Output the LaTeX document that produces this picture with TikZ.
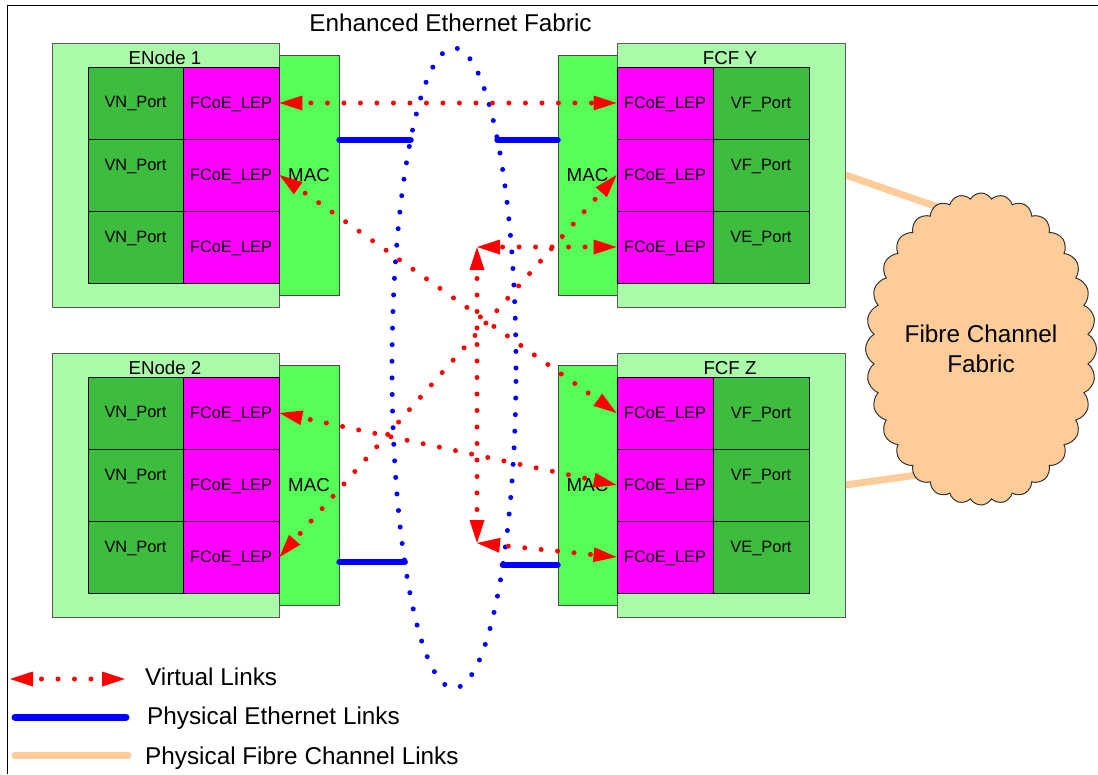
\documentclass[tikz,border=0pt]{standalone}
\usepackage{fontspec}
\setmainfont{Liberation Sans}
\usetikzlibrary{arrows.meta,shapes.geometric,shapes.symbols,calc}
\pgfdeclarelayer{bg}
\pgfsetlayers{bg,main}

\definecolor{outerG}{RGB}{170,250,170}
\definecolor{cellG}{RGB}{62,188,62}
\definecolor{macG}{RGB}{85,255,85}
\definecolor{lepM}{RGB}{255,0,255}
\definecolor{fcPeach}{RGB}{253,204,153}
\definecolor{vRed}{RGB}{255,0,0}
\definecolor{eBlue}{RGB}{0,0,255}
\definecolor{edgeGray}{RGB}{90,90,90}

\begin{document}
\begin{tikzpicture}[x=1pt,y=-1pt,
  outerbox/.style={draw=edgeGray, line width=1pt, fill=outerG,
    minimum width=228pt, minimum height=264pt, inner sep=0pt},
  macbox/.style={draw=edgeGray!80!black, line width=1pt, fill=macG,
    minimum width=60pt, minimum height=240pt, inner sep=0pt,
    font=\fontsize{18.7}{22}\selectfont, text depth=0pt},
  portcell/.style={draw=black, line width=0.9pt, fill=cellG,
    minimum width=96pt, minimum height=72pt, inner sep=0pt},
  lepcell/.style={portcell, fill=lepM,
    font=\fontsize{16.4}{19}\selectfont, text depth=0pt},
  celltext/.style={font=\fontsize{16.4}{19}\selectfont, text depth=0pt, inner sep=0pt},
  boxlabel/.style={font=\fontsize{18.7}{22}\selectfont, text depth=0pt, inner sep=0pt},
  bigtext/.style={font=\fontsize{24.3}{30}\selectfont, inner sep=0pt},
  legtext/.style={bigtext, anchor=west, text depth=0pt},
  vlink/.style={draw, color=vRed, line width=5pt, line cap=round,
    dash pattern=on 0pt off 16.5pt, dash phase=8pt,
    {Triangle[length=23pt,width=15pt,line width=0pt]}-{Triangle[length=23pt,width=15pt,line width=0pt]}},
  elink/.style={draw=eBlue, line width=6.5pt, line cap=round},
  fclink/.style={draw=fcPeach, line width=7pt},
]
\useasboundingbox (0,0) rectangle (1098,774);

% frame
\draw[line width=1pt] (7.5,774) -- (7.5,5.5) -- (1098,5.5);

% title of the Ethernet fabric
\node[bigtext] (title) at (450.5,23) {Enhanced Ethernet Fabric};

% ---------- ENode 1 ----------
\node[outerbox, minimum width=227pt] (enAo) at (165.5,175) {};
\node[macbox] (macA) at (309,175) {MAC};
\node[boxlabel] (enAl) at (165,58) {ENode 1};
\foreach \i/\y in {1/103,2/175,3/247} {
  \node[portcell, minimum width=95pt] (vnA\i) at (135.5,\y) {};
  \node[lepcell] (lepA\i) at (231,\y) {FCoE\_LEP};
}
\node[celltext] (vnAt1) at (135.5,102) {VN\_Port};
\node[celltext] (vnAt2) at (135.5,165) {VN\_Port};
\node[celltext] (vnAt3) at (135.5,237) {VN\_Port};

% ---------- ENode 2 ----------
\node[outerbox, minimum width=227pt] (enBo) at (165.5,485) {};
\node[macbox] (macB) at (309,485) {MAC};
\node[boxlabel] (enBl) at (165,368) {ENode 2};
\foreach \i/\y in {1/413,2/485,3/557} {
  \node[portcell, minimum width=95pt] (vnB\i) at (135.5,\y) {};
  \node[lepcell] (lepB\i) at (231,\y) {FCoE\_LEP};
}
\node[celltext] (vnBt1) at (135.5,412) {VN\_Port};
\node[celltext] (vnBt2) at (135.5,475) {VN\_Port};
\node[celltext] (vnBt3) at (135.5,547) {VN\_Port};

% ---------- FCF Y ----------
\node[macbox, minimum width=59pt] (macY) at (587.5,175) {MAC};
\node[outerbox] (fYo) at (731,175) {};
\node[boxlabel] (fYl) at (730,58) {FCF Y};
\foreach \i/\y in {1/103,2/175,3/247} {
  \node[lepcell] (lepY\i) at (665,\y) {FCoE\_LEP};
  \node[portcell] (vfY\i) at (761,\y) {};
}
\node[celltext] (vfYt1) at (761,103) {VF\_Port};
\node[celltext] (vfYt2) at (761,165) {VF\_Port};
\node[celltext] (vfYt3) at (761,237) {VE\_Port};

% ---------- FCF Z ----------
\node[macbox, minimum width=59pt] (macZ) at (587.5,485) {MAC};
\node[outerbox] (fZo) at (731,485) {};
\node[boxlabel] (fZl) at (730,368) {FCF Z};
\foreach \i/\y in {1/413,2/485,3/557} {
  \node[lepcell] (lepZ\i) at (665,\y) {FCoE\_LEP};
  \node[portcell] (vfZ\i) at (761,\y) {};
}
\node[celltext] (vfZt1) at (761,413) {VF\_Port};
\node[celltext] (vfZt2) at (761,475) {VF\_Port};
\node[celltext] (vfZt3) at (761,547) {VE\_Port};

% ---------- Fibre Channel fabric ----------
\node[cloud, cloud puffs=32, cloud puff arc=120, draw=black!80, line width=1pt,
      fill=fcPeach, minimum width=231pt, minimum height=312pt, inner sep=0pt,
      align=center, font=\fontsize{24.3}{30}\selectfont] (fcf) at (981,349)
      {Fibre Channel\\Fabric};
\begin{pgfonlayer}{bg}
  \draw[fclink] (fYo.east) -- ($(fYo.east)!1.06!(fcf.108)$);
  \draw[fclink] (fZo.east) -- ($(fZo.east)!1.06!(fcf.242)$);
\end{pgfonlayer}

% ---------- Enhanced Ethernet fabric ----------
\node[ellipse, draw=eBlue, line width=5pt, line cap=round,
      dash pattern=on 0pt off 16.6pt, minimum width=124pt, minimum height=640pt,
      inner sep=0pt, outer sep=0pt] (eef) at (454,368) {};
% where the physical links meet the fabric
\coordinate (eA) at (410.5,140);
\coordinate (eY) at (497.5,140);
\coordinate (eB) at (404.7,562);
\coordinate (eZ) at (502.9,565);

% physical Ethernet links
\draw[elink] (macA.east |- eA) -- (eA);
\draw[elink] (macY.west |- eY) -- (eY);
\draw[elink] (macB.east |- eB) -- (eB);
\draw[elink] (macZ.west |- eZ) -- (eZ);

% virtual links
\draw[vlink] (lepA1.east) -- (lepY1.west);
\draw[vlink] (lepA2.east) -- (lepZ1.west);
\draw[vlink] (lepB1.east) -- (lepZ2.west);
\draw[vlink] (lepB3.east) -- (lepY2.west);
\coordinate (vc1) at (477,247);
\coordinate (vc2) at (477,543);
\draw[vlink] (lepY3.west) -- (vc1);
\draw[vlink] (vc1) -- (vc2);
\draw[vlink] (vc2) -- (lepZ3.west);

% ---------- legend ----------
\coordinate (lgA1) at (10,679);
\coordinate (lgA2) at (125,679);
\draw[vlink] (lgA1) -- (lgA2);
\node[legtext] (lgAt) at (145,677) {Virtual Links};
\coordinate (lgB1) at (15,717);
\coordinate (lgB2) at (126,717);
\draw[elink, line width=7pt] (lgB1) -- (lgB2);
\node[legtext] (lgBt) at (147,716) {Physical Ethernet Links};
\coordinate (lgC1) at (15,755);
\coordinate (lgC2) at (128,755);
\draw[fclink, line cap=round] (lgC1) -- (lgC2);
\node[legtext] (lgCt) at (145,756) {Physical Fibre Channel Links};
\end{tikzpicture}
\end{document}
